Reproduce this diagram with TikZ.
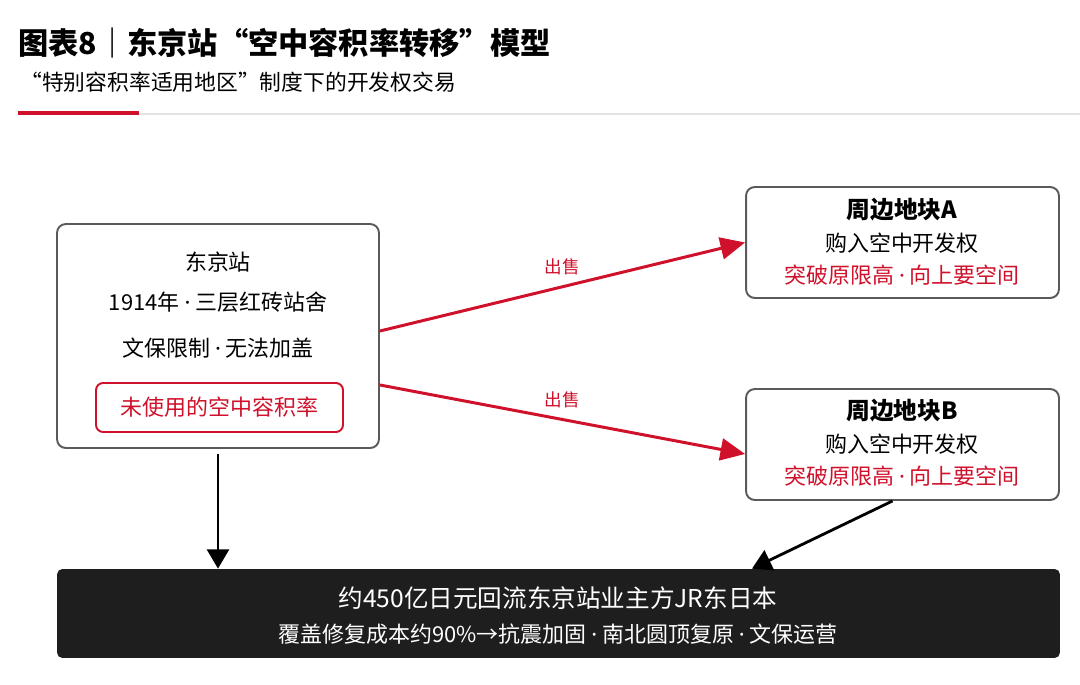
\documentclass[tikz,border=0pt]{standalone}
\usepackage{fontspec}
\setmainfont{Noto Sans CJK SC}
\newfontfamily\latinfont{Noto Sans}
\newcommand{\mydot}{\ {\latinfont ·}\ }
\usetikzlibrary{arrows.meta}
\definecolor{myred}{RGB}{208,17,43}
\definecolor{myframe}{RGB}{90,90,90}
\definecolor{mydark}{RGB}{30,30,30}
\definecolor{myrule}{RGB}{226,226,226}

\begin{document}
\begin{tikzpicture}[x=0.02cm, y=-0.02cm,
        box/.style={draw=myframe, line width=1.1pt, rounded corners=5pt, fill=white},
        txt/.style={inner sep=0pt, font=\fontsize{12.5}{15}\selectfont},
        sale/.style={-{Triangle[length=14pt, width=12.5pt]}, draw=myred, line width=1.7pt},
        flow/.style={-{Triangle[length=11pt, width=12.5pt]}, line width=1.6pt}]

            \useasboundingbox (0,0) rectangle (1080,684);

            \node[anchor=west, inner sep=0pt, font=\fontsize{17.2}{20}\selectfont\bfseries] (title) at (18,43) {图表8｜东京站“空中容积率转移”模型};
            \node[anchor=west, inner sep=0pt, font=\fontsize{12.4}{15}\selectfont] (subtitle) at (20,82) {“特别容积率适用地区”制度下的开发权交易};
            \draw[myrule, line width=1pt] (139,114) -- (1080,114);
            \draw[myred, line width=2.2pt] (18,113) -- (139,113);

            \node[box, minimum width=6.44cm, minimum height=4.48cm] (station) at (218,336) {};
            \node[txt] (stname) at (218,262) {东京站};
            \node[txt] (stbuilt) at (218,302) {1914年\mydot 三层红砖站舍};
            \node[txt] (stlimit) at (218,348) {文保限制\mydot 无法加盖};
            \node[box, draw=myred, text=myred, rounded corners=4pt, inner sep=0pt, minimum width=4.94cm, minimum height=0.98cm, font=\fontsize{12.5}{15}\selectfont] (unused) at (219.5,407.5) {未使用的空中容积率};

            \node[box, minimum width=6.26cm, minimum height=2.22cm] (plotA) at (902.5,242.5) {};
            \node[txt, font=\fontsize{13.5}{16}\selectfont\bfseries] (plotAname) at (902,210) {周边地块A};
            \node[txt] (plotAbuy) at (902,243) {购入空中开发权};
            \node[txt, text=myred] (plotAgain) at (902,275) {突破原限高\mydot 向上要空间};

            \node[box, minimum width=6.26cm, minimum height=2.22cm] (plotB) at (902.5,444.5) {};
            \node[txt, font=\fontsize{13.5}{16}\selectfont\bfseries] (plotBname) at (902,411) {周边地块B};
            \node[txt] (plotBbuy) at (902,444) {购入空中开发权};
            \node[txt, text=myred] (plotBgain) at (902,476) {突破原限高\mydot 向上要空间};

            \node[fill=mydark, rounded corners=3pt, minimum width=20.06cm, minimum height=1.78cm] (fund) at (558.5,613.5) {};
            \node[txt, text=white, font=\fontsize{14}{17}\selectfont] (fundsum) at (558,598) {约450亿日元回流东京站业主方JR东日本};
            \node[txt, text=white] (funduse) at (558,634) {覆盖修复成本约90\%→抗震加固\mydot 南北圆顶复原\mydot 文保运营};

            \draw[sale] ([yshift=0.1cm]station.east) -- (plotA.west) node[midway, above=0.2cm, inner sep=0pt, text=myred, font=\fontsize{10}{12}\selectfont] {出售};
            \draw[sale] ([yshift=-0.98cm]station.east) -- ([yshift=-0.19cm]plotB.west) node[midway, above=0.21cm, inner sep=0pt, text=myred, font=\fontsize{10}{12}\selectfont] {出售};
            \draw[flow] ([yshift=-0.1cm]station.south) -- (station.south |- fund.north);
            \draw[flow] ([xshift=-0.2cm]plotB.south) -- ([xshift=3.87cm]fund.north);
        \end{tikzpicture}
\end{document}
